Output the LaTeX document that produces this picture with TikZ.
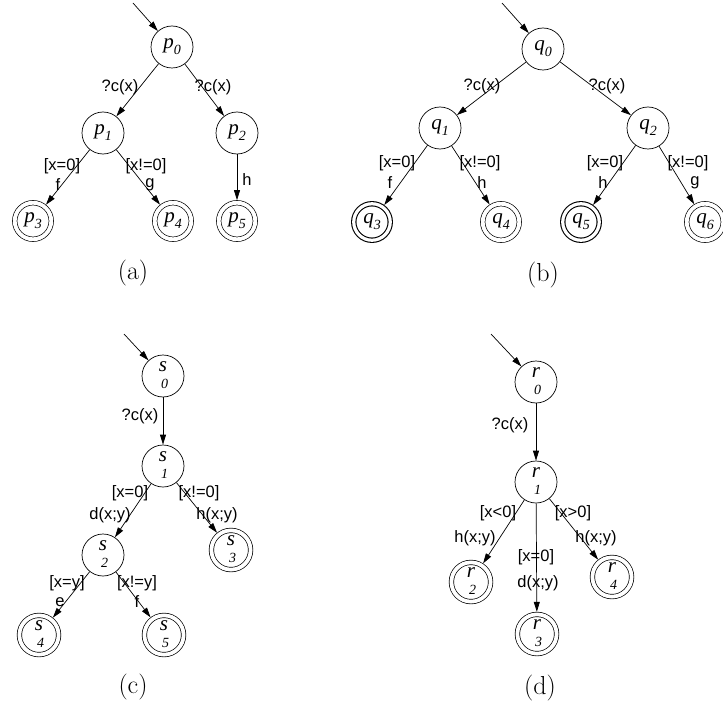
\documentclass[tikz,border=0pt]{standalone}
\usepackage{fontspec}
\usetikzlibrary{arrows.meta}
\newfontfamily\lblfont{Liberation Sans}
\newfontfamily\stfont{Liberation Serif}
\tikzset{
  st_n/.style = {circle, draw=black, line width=0.7pt, minimum size=42pt, inner sep=0pt,
    font=\stfont\fontsize{21}{21}\selectfont},
  st_f/.style = {st_n, double, double distance=3.8pt, minimum size=36.5pt, outer sep=2.6pt},
  st_fb/.style = {st_f, line width=1.1pt, double distance=3.2pt, outer sep=2.7pt},
  lbl/.style = {inner sep=0pt, font=\lblfont\fontsize{16.5}{16.5}\selectfont},
  tr/.style = {-{Triangle[length=10pt,width=6pt]}, line width=0.7pt},
  subcap/.style = {inner sep=0pt, font=\fontsize{26}{30}\selectfont},
}
\newcommand{\stn}[2]{{\itshape #1}\raisebox{-6pt}{\fontsize{14}{14}\selectfont\itshape #2}}
\newcommand{\stv}[2]{\begin{tabular}{@{}c@{}}\itshape #1\\[-4pt]\hspace{3pt}\fontsize{14}{14}\selectfont\itshape #2\end{tabular}}

\begin{document}
\begin{tikzpicture}[x=1pt, y=-1pt]
  \useasboundingbox (0,0) rectangle (723,706);
  % (a)
  \coordinate (p_in) at (133,3);
  \node [st_n] (p0) at (172,47) {\stn{p}{0}};
  \node [st_n] (p1) at (103,133) {\stn{p}{1}};
  \node [st_n] (p2) at (237,133) {\stn{p}{2}};
  \node [st_f] (p3) at (33,221) {\stn{p}{3}};
  \node [st_f] (p4) at (173,221) {\stn{p}{4}};
  \node [st_f] (p5) at (237,221) {\stn{p}{5}};
  \draw [tr] (p_in) -- (p0);
  \draw [tr] (p0) -- (p1);
  \draw [tr] (p0) -- (p2);
  \draw [tr] (p1) -- (p3);
  \draw [tr] (p1) -- (p4);
  \draw [tr] (p2) -- (p5);
  \node [lbl] (la_p01) at (120,87) {?c(x)};
  \node [lbl] (la_p02) at (213,87) {?c(x)};
  \node [lbl] (lg_p13) at (62,166) {[x=0]};
  \node [lbl] (la_p13) at (58,185) {f};
  \node [lbl] (lg_p14) at (146,166) {[x!=0]};
  \node [lbl] (la_p14) at (150,185) {g};
  \node [lbl] (la_p25) at (247,180) {h};
  \node [subcap] (cap_a) at (133,273) {(a)};
  % (b)
  \coordinate (q_in) at (502,3);
  \node [st_n] (q0) at (543,49) {\stn{q}{0}};
  \node [st_n] (q1) at (440,128) {\stn{q}{1}};
  \node [st_n] (q2) at (648,128) {\stn{q}{2}};
  \node [st_fb] (q3) at (372,222) {\stn{q}{3}};
  \node [st_f] (q4) at (501,222) {\stn{q}{4}};
  \node [st_fb] (q5) at (581,222) {\stn{q}{5}};
  \node [st_f] (q6) at (705,222) {\stn{q}{6}};
  \draw [tr] (q_in) -- (q0);
  \draw [tr] (q0) -- (q1);
  \draw [tr] (q0) -- (q2);
  \draw [tr] (q1) -- (q3);
  \draw [tr] (q1) -- (q4);
  \draw [tr] (q2) -- (q5);
  \draw [tr] (q2) -- (q6);
  \node [lbl] (la_q01) at (482,86) {?c(x)};
  \node [lbl] (la_q02) at (607,86) {?c(x)};
  \node [lbl] (lg_q13) at (397,163) {[x=0]};
  \node [lbl] (la_q13) at (390,183) {f};
  \node [lbl] (lg_q14) at (480,163) {[x!=0]};
  \node [lbl] (la_q14) at (482,183) {h};
  \node [lbl] (lg_q25) at (605,163) {[x=0]};
  \node [lbl] (la_q25) at (603,183) {h};
  \node [lbl] (lg_q26) at (688,163) {[x!=0]};
  \node [lbl] (la_q26) at (695,183) {g};
  \node [subcap] (cap_b) at (543,275) {(b)};
  % (c)
  \coordinate (s_in) at (124,334);
  \node [st_n] (s0) at (163,376) {\stv{s}{0}};
  \node [st_n] (s1) at (163,466) {\stv{s}{1}};
  \node [st_n] (s2) at (103,555) {\stv{s}{2}};
  \node [st_f] (s3) at (231,550) {\stv{s}{3}};
  \node [st_f] (s4) at (39,635) {\stv{s}{4}};
  \node [st_f] (s5) at (164,635) {\stv{s}{5}};
  \draw [tr] (s_in) -- (s0);
  \draw [tr] (s0) -- (s1);
  \draw [tr] (s1) -- (s2);
  \draw [tr] (s1) -- (s3);
  \draw [tr] (s2) -- (s4);
  \draw [tr] (s2) -- (s5);
  \node [lbl] (la_s01) at (140,416) {?c(x)};
  \node [lbl] (lg_s12) at (130,493) {[x=0]};
  \node [lbl] (la_s12) at (110,515) {d(x;y)};
  \node [lbl] (lg_s13) at (199,493) {[x!=0]};
  \node [lbl] (la_s13) at (217,515) {h(x;y)};
  \node [lbl] (lg_s24) at (67,583) {[x=y]};
  \node [lbl] (la_s24) at (60,602) {e};
  \node [lbl] (lg_s25) at (137,583) {[x!=y]};
  \node [lbl] (la_s25) at (137,602) {f};
  \node [subcap] (cap_c) at (133,687) {(c)};
  % (d)
  \coordinate (r_in) at (491,334);
  \node [st_n] (r0) at (536,382) {\stv{r}{0}};
  \node [st_n] (r1) at (536,482) {\stv{r}{1}};
  \node [st_f] (r2) at (471,582) {\stv{r}{2}};
  \node [st_f] (r3) at (537,634) {\stv{r}{3}};
  \node [st_f] (r4) at (612,577) {\stv{r}{4}};
  \draw [tr] (r_in) -- (r0);
  \draw [tr] (r0) -- (r1);
  \draw [tr] (r1) -- (r2);
  \draw [tr] (r1) -- (r3);
  \draw [tr] (r1) -- (r4);
  \node [lbl] (la_r01) at (510,425) {?c(x)};
  \node [lbl] (lg_r12) at (498,513) {[x<0]};
  \node [lbl] (la_r12) at (475,538) {h(x;y)};
  \node [lbl] (lg_r14) at (573,513) {[x>0]};
  \node [lbl] (la_r14) at (596,538) {h(x;y)};
  \node [lbl] (lg_r13) at (536,557) {[x=0]};
  \node [lbl] (la_r13) at (538,583) {d(x;y)};
  \node [subcap] (cap_d) at (540,688) {(d)};
\end{tikzpicture}
\end{document}
